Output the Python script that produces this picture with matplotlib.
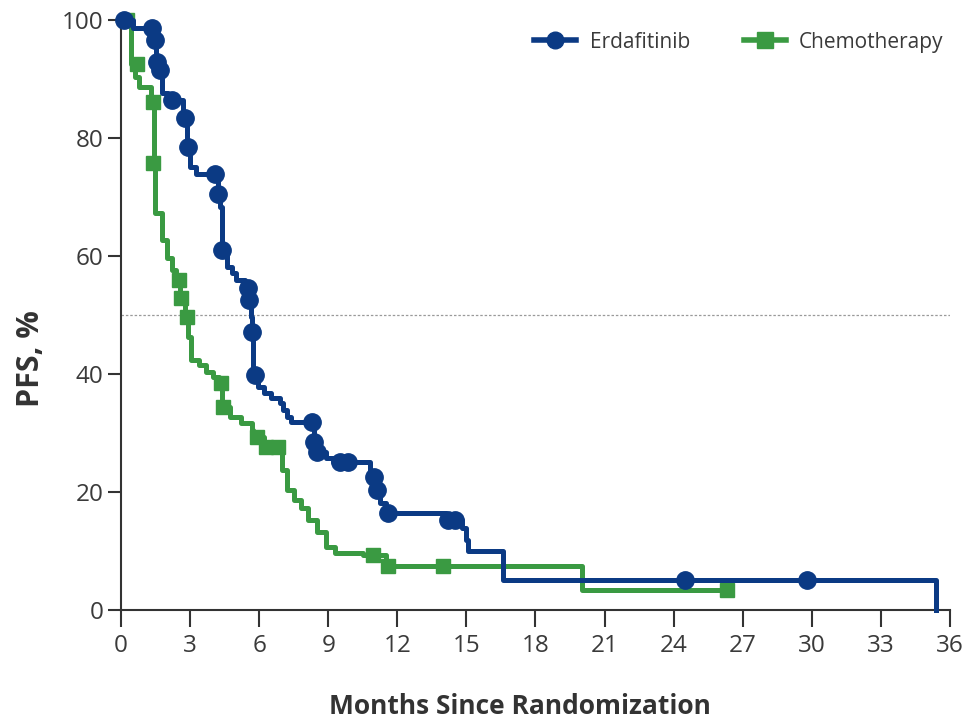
import matplotlib.pyplot as plt

plt.rcParams['font.family'] = ['Open Sans', 'DejaVu Sans']

# Kaplan-Meier step data: event times (months) and survival (%) after each step
erda_t = [0, 0.5, 1.4, 1.5, 1.8, 2.05, 2.7, 2.87, 3.0, 3.25, 4.2, 4.3, 4.4, 4.6, 4.8,
          5.0, 5.4, 5.5, 5.65, 5.7, 5.75, 5.95, 6.2, 6.5, 6.9, 7.05, 7.2, 7.4, 8.4,
          8.5, 8.9, 9.2, 10.8, 10.9, 11.05, 11.25, 11.5, 14.1, 14.8, 15.0, 15.05,
          16.6, 35.4]
erda_s = [100, 98.6, 96.6, 92.9, 87.6, 86.4, 83.4, 78.5, 75.1, 73.9, 70.5, 68.3, 61.0,
          58.1, 57.1, 55.9, 54.6, 52.5, 49.7, 47.1, 39.8, 37.8, 36.8, 35.9, 35.1, 33.9,
          32.7, 31.9, 28.5, 26.8, 25.8, 25.1, 23.2, 22.5, 20.3, 18.1, 16.4, 15.3, 13.9,
          11.9, 10.0, 5.1, 0]
erda_cens_t = [0.15, 1.35, 1.47, 1.57, 1.7, 2.2, 2.78, 2.9, 4.1, 4.2, 4.4, 5.5, 5.55,
               5.7, 5.8, 8.3, 8.4, 8.5, 9.5, 9.85, 11.0, 11.1, 11.6, 14.2, 14.5,
               24.5, 29.8]
erda_cens_s = [100, 98.6, 96.6, 92.9, 91.5, 86.4, 83.4, 78.5, 73.9, 70.5, 61.0, 54.6,
               52.5, 47.1, 39.8, 31.9, 28.5, 26.8, 25.1, 25.1, 22.5, 20.3, 16.4, 15.3,
               15.3, 5.1, 5.1]

chemo_t = [0, 0.45, 0.6, 0.8, 1.3, 1.42, 1.48, 1.8, 2.0, 2.2, 2.4, 2.55, 2.8, 2.9, 3.05,
           3.4, 3.7, 4.0, 4.25, 4.4, 4.75, 5.2, 5.7, 5.75, 6.2, 7.0, 7.2, 7.5, 7.8, 8.1,
           8.5, 8.9, 9.3, 10.5, 11.5, 20.0, 26.3]
chemo_s = [100, 92.5, 90.3, 88.6, 86.1, 75.8, 67.3, 62.7, 59.7, 57.6, 55.9, 52.9, 49.7,
           46.3, 42.4, 41.5, 40.3, 39.5, 38.5, 34.4, 32.7, 31.7, 30.5, 29.3, 27.6, 23.7,
           20.3, 18.6, 17.3, 15.3, 13.2, 10.7, 9.7, 9.3, 7.4, 3.4, 3.4]
chemo_cens_t = [0.25, 0.7, 1.4, 1.4, 2.5, 2.6, 2.85, 4.35, 4.45, 5.9, 6.3, 6.8, 10.95,
                11.6, 14.0, 26.3]
chemo_cens_s = [100, 92.5, 86.1, 75.8, 55.9, 52.9, 49.7, 38.5, 34.4, 29.3, 27.6, 27.6,
                9.3, 7.4, 7.4, 3.4]

x_ticks = list(range(0, 37, 3))
y_ticks = [0, 20, 40, 60, 80, 100]

blue = '#0b3a84'
green = '#3a9a42'
ink = '#333333'

fig = plt.figure(figsize=(9.65, 7.24), dpi=100)
ax = fig.add_axes([0.1254, 0.1575, 0.859, 0.815])

ax.axhline(50, color='#9a9a9a', lw=0.9, ls=(0, (2, 1.5)), zorder=1)

ax.step(chemo_t, chemo_s, where='post', color=green, lw=3.6, zorder=2, clip_on=False)
ax.step(erda_t, erda_s, where='post', color=blue, lw=3.6, zorder=3, clip_on=False)
ax.plot(chemo_cens_t, chemo_cens_s, ls='none', marker='s', ms=10, color=green,
        zorder=2, clip_on=False)
ax.plot(erda_cens_t, erda_cens_s, ls='none', marker='o', ms=12.5, color=blue,
        zorder=3, clip_on=False)

# legend handles
ax.plot([], [], color=blue, lw=4, marker='o', ms=12, label='Erdafitinib')
ax.plot([], [], color=green, lw=4, marker='s', ms=11, label='Chemotherapy')
ax.legend(loc='upper right', bbox_to_anchor=(1.015, 1.012), ncol=2, frameon=False,
          fontsize=15, handlelength=2.0, columnspacing=2.6, handletextpad=0.65,
          labelcolor='#3a3a3a')

ax.set_xlim(0, 36)
ax.set_ylim(0, 100)
ax.set_xticks(x_ticks)
ax.set_yticks(y_ticks)
for s in ['top', 'right']:
    ax.spines[s].set_visible(False)
for s in ['left', 'bottom']:
    ax.spines[s].set_color(ink)
    ax.spines[s].set_linewidth(1.5)
ax.tick_params(axis='x', length=12, width=1.5, color=ink, labelsize=17.5,
               labelcolor='#3a3a3a', pad=5)
ax.tick_params(axis='y', length=9.5, width=1.5, color=ink, labelsize=17.5,
               labelcolor='#3a3a3a', pad=3)

ax.set_xlabel('Months Since Randomization', fontsize=19, fontweight='bold', color=ink)
ax.xaxis.set_label_coords(0.481, -0.141)
ax.set_ylabel('PFS, %', fontsize=22, fontweight='bold', color=ink)
ax.yaxis.set_label_coords(-0.090, 0.426)

fig.savefig('out.png', dpi=100)
